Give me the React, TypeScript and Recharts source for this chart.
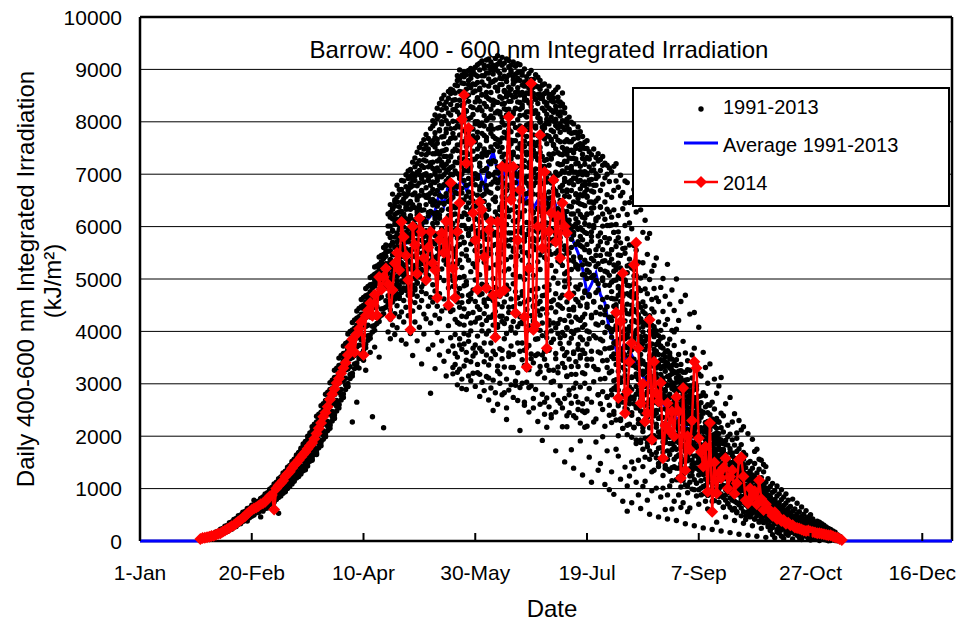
import { ScatterChart, Scatter, XAxis, YAxis, CartesianGrid } from "recharts"

const FONT = '"Liberation Sans", Arial, Helvetica, sans-serif'

const xTicks = [0, 50, 100, 150, 200, 250, 300, 350]
const xTickLabels = ["1-Jan", "20-Feb", "10-Apr", "30-May", "19-Jul", "7-Sep", "27-Oct", "16-Dec"]
const yTicks = [0, 1000, 2000, 3000, 4000, 5000, 6000, 7000, 8000, 9000, 10000]

// 1991-2013 daily values, each row: [day of year (1-Jan = 0), values...]
const cloudSpring = [
  [27, 10, 35, 50, 25], [28, 22, 48, 63, 34], [29, 28, 57, 72, 44], [30, 42, 66, 93, 53],
  [31, 47, 84, 101, 68], [32, 63, 97, 128, 79], [33, 71, 118, 141, 98], [34, 93, 131, 174, 108],
  [35, 98, 156, 186, 133], [36, 124, 170, 226, 147], [37, 137, 206, 241, 173], [38, 166, 224, 281, 192],
  [39, 181, 262, 299, 224], [40, 211, 276, 348, 247], [41, 226, 317, 362, 281], [42, 262, 339, 410, 296],
  [43, 276, 378, 432, 336], [44, 318, 398, 481, 354], [45, 331, 448, 497, 396], [46, 372, 463, 551, 414],
  [47, 389, 509, 566, 457], [48, 428, 527, 621, 474, 380], [49, 444, 574, 632, 518], [50, 489, 592, 683, 538],
  [51, 494, 634, 691, 578, 780], [52, 539, 647, 744, 594], [53, 544, 691, 751, 633], [54, 584, 702, 803, 643, 460],
  [55, 593, 752, 814, 688, 570, 840], [56, 641, 761, 874, 702, 620, 900], [57, 652, 823, 889, 754, 630, 920], [58, 712, 838, 957, 771, 690, 990],
  [59, 731, 909, 972, 831, 700, 1020], [60, 793, 927, 1048, 851, 740, 1090], [61, 811, 1001, 1066, 917, 790, 1120], [62, 874, 1017, 1149, 940, 530, 830, 1190],
  [63, 889, 1097, 1164, 1009, 860, 1220], [64, 967, 1117, 1256, 1028, 910, 1300], [65, 988, 1204, 1274, 1109, 960, 940, 1330], [66, 1069, 1224, 1367, 1137, 1000, 1410],
  [67, 1086, 1309, 1384, 1216, 1040, 1440], [68, 1171, 1322, 1478, 1236, 1090, 1110, 1520], [69, 1184, 1412, 1492, 1318, 1140, 1550], [70, 1272, 1423, 1594, 1334, 1620, 1200, 1640],
  [71, 1283, 1522, 1611, 1417, 1230, 1680], [72, 1374, 1536, 1716, 1437, 1280, 1310, 1770], [73, 1382, 1633, 1729, 1531, 1340, 1800], [74, 1477, 1648, 1836, 1546, 1360, 1420, 1890],
  [75, 1484, 1756, 1851, 1641, 1430, 1930], [76, 1587, 1768, 1965, 1661, 1520, 2020], [77, 1601, 1884, 1987, 1767, 1540, 1560, 2070], [78, 1718, 1906, 2112, 1788, 1650, 2160],
  [79, 1739, 2037, 2134, 1903, 1650, 1680, 2210], [80, 1861, 2066, 2272, 1938, 1780, 2320], [81, 1884, 2203, 2309, 2066, 2420, 1820, 2380], [82, 2021, 2238, 2461, 2099, 1940, 2500],
  [83, 2046, 2382, 2502, 2243, 2000, 1990, 2560], [84, 2191, 2423, 2662, 2282, 2110, 2700], [85, 2222, 2579, 2712, 2428, 2200, 2150, 2760], [86, 2373, 2621, 2882, 2471, 2290, 2910],
  [87, 2409, 2791, 2929, 2631, 2350, 2340, 2980], [88, 2573, 2838, 3103, 2681, 2480, 3130], [89, 2607, 3012, 3149, 2841, 2600, 2540, 3200], [90, 2777, 3058, 3322, 2891, 2690, 3360],
  [91, 2806, 3233, 3378, 3061, 3520, 2740, 3440], [92, 2977, 3278, 3563, 3107, 2890, 3590], [93, 3006, 3453, 3619, 3281, 2950, 2950, 3670], [94, 3177, 3496, 3793, 3326, 3100, 3820],
  [95, 3203, 3673, 3846, 3502, 2270, 3150, 3900], [96, 3377, 3709, 4021, 3538, 3900, 3290, 4060], [97, 3397, 3873, 4058, 3703, 2650, 3340, 4120], [98, 3557, 3907, 4233, 3737, 3300, 3480, 4280],
  [99, 3576, 4073, 4267, 3837, 3530, 4330], [100, 3737, 4097, 4433, 3927, 3450, 3630, 4500], [101, 3754, 4263, 4467, 4093, 3260, 3690, 4560], [102, 3917, 4287, 4633, 4117, 3830, 4700],
  [103, 3934, 4443, 4667, 4273, 3600, 3870, 4760], [104, 4097, 4467, 4833, 4297, 2370, 3990, 4900], [105, 4114, 4623, 4867, 4453, 3700, 4020, 4980], [106, 4267, 4647, 5033, 4477, 4150, 5120],
  [107, 4276, 4803, 5067, 4633, 3510, 4190, 5180], [108, 4427, 4817, 5233, 4657, 5450, 4310, 5330], [109, 4436, 4963, 5267, 4813, 2160, 4340, 5390], [110, 4587, 4977, 5433, 4827, 5650, 4460, 5520],
]

// more spring days, upper side of the band
const cloudSpringUpper = [
  [50, 610, 470, 650], [51, 540, 680, 600], [52, 690, 560, 620], [53, 610, 760, 700], [54, 740, 650, 810],
  [55, 680, 830, 600], [56, 810, 700, 760], [57, 740, 870, 820], [58, 880, 770, 720], [59, 820, 960, 900],
  [60, 990, 860, 780], [61, 900, 1060, 1010], [62, 1100, 960, 880], [63, 1010, 1170, 1110], [64, 1210, 1060, 970],
  [65, 1120, 1290, 1230], [66, 1320, 1170, 1070], [67, 1230, 1410, 1330], [68, 1460, 1280, 1190], [69, 1370, 1560, 1480],
  [70, 1590, 1410, 1300], [71, 1510, 1690, 1620], [72, 1730, 1560, 1420], [73, 1660, 1850, 1760], [74, 1900, 1710, 1560],
  [75, 1820, 2000, 1920], [76, 2060, 1860, 1720], [77, 1980, 2180, 2100], [78, 2230, 2020, 1880], [79, 2150, 2380, 2270],
  [80, 2420, 2190, 2050], [81, 2340, 2580, 2460], [82, 2620, 2380, 2230], [83, 2540, 2800, 2680], [84, 2840, 2580, 2420],
  [85, 2750, 3020, 2890], [86, 3070, 2790, 2620], [87, 2970, 3260, 3120], [88, 3300, 3010, 2830], [89, 3200, 3490, 3350],
  [90, 3540, 3240, 3050], [91, 3420, 3720, 3580], [92, 3770, 3460, 3270], [93, 3650, 3950, 3800], [94, 4000, 3690, 3480],
  [95, 3870, 4170, 4030], [96, 4220, 3910, 3700], [97, 4090, 4390, 4250], [98, 4440, 4120, 3910], [99, 4300, 4610, 4470],
  [100, 4650, 4330, 4110], [101, 4510, 4820, 4680], [102, 4860, 4530, 4310], [103, 4710, 5030, 4890], [104, 5060, 4730, 4510],
  [105, 4910, 5230, 5090], [106, 5250, 4920, 4700], [107, 5100, 5420, 5280], [108, 5440, 5110, 4890], [109, 5280, 5600, 5470],
  [110, 5620, 5290, 5070],
]

const cloudSummer = [
  [111, 4520, 5870, 5110, 6240, 4860, 5530, 3990, 6010, 5290, 4680],
  [112, 5640, 4410, 6180, 5020, 4230, 5790, 6420, 4950, 5370, 3860],
  [113, 4790, 6330, 5460, 4120, 5910, 5180, 6620, 4560, 5700, 5050],
  [114, 6050, 4880, 5320, 6470, 4340, 5600, 3940, 5150, 6230, 4690],
  [115, 5260, 6560, 4490, 5830, 4960, 6140, 5480, 4070, 6790, 5710],
  [116, 4630, 5950, 6380, 5090, 4280, 5560, 6710, 4820, 5340, 6040],
  [117, 5810, 4370, 6290, 5430, 4740, 6880, 5140, 3830, 6090, 5620],
  [118, 4940, 6450, 5270, 4590, 5990, 6630, 4180, 5720, 5060, 6210],
  [119, 6370, 5040, 4460, 5860, 6990, 5390, 4810, 6150, 3760, 5580],
  [120, 5190, 6620, 4690, 5950, 4300, 6340, 5480, 7060, 4920, 5770],
  [121, 4580, 6480, 5320, 7090, 3960, 5860, 6210, 4840, 5540, 6750],
  [122, 6020, 4390, 6890, 5170, 5680, 7230, 4710, 6370, 3540, 5430],
  [123, 5260, 6640, 4550, 7310, 5890, 4180, 6130, 5010, 6960, 4830],
  [124, 4670, 5740, 7040, 6280, 3820, 5390, 6560, 4930, 7420, 5980],
  [125, 6180, 5050, 6830, 4460, 7510, 5620, 4080, 6410, 5270, 6990],
  [126, 5490, 7160, 4760, 6040, 3380, 6690, 5180, 7580, 4590, 5860],
  [127, 4910, 6320, 5700, 7270, 4330, 6850, 5360, 7660, 3950, 6150],
  [128, 6560, 4720, 7370, 5540, 6090, 4240, 7010, 5160, 7760, 5880],
  [129, 5230, 6900, 4480, 6270, 7480, 5720, 3660, 6610, 4990, 7140],
  [130, 4650, 7220, 5950, 6480, 5310, 7870, 4160, 6790, 2820, 5590],
  [131, 5420, 7390, 4560, 6710, 8020, 5980, 3740, 6260, 7110, 4890, 7640, 6520],
  [132, 6840, 4310, 7520, 5670, 8130, 6150, 3290, 7000, 5230, 6480, 7790, 4770],
  [133, 5110, 7250, 6390, 4480, 8260, 5860, 6930, 7670, 3980, 6070, 5440, 7440],
  [134, 7060, 4720, 6600, 8350, 5540, 7380, 3550, 6220, 7850, 5030, 6780, 4240],
  [135, 5780, 7710, 4390, 6950, 8440, 6320, 5190, 7230, 3820, 6570, 7960, 5510],
  [136, 6440, 4970, 8100, 7120, 5360, 6790, 3430, 7580, 5910, 8510, 4620, 7340],
  [137, 7470, 5620, 6870, 4450, 8260, 6050, 7790, 3150, 6630, 5280, 8020, 7190],
  [138, 4830, 7090, 6210, 8580, 5740, 7620, 4110, 6920, 5430, 8170, 3620, 6480],
  [139, 6690, 8330, 5060, 7350, 4380, 7870, 6080, 8620, 5590, 3880, 7130, 6340],
  [140, 5290, 7700, 6560, 4640, 8410, 6990, 5850, 8010, 3310, 7440, 4970, 6230],
  [141, 7230, 5520, 8550, 6360, 4230, 7880, 6790, 8240, 3580, 5940, 7480, 4870],
  [142, 6110, 8690, 4560, 7560, 5290, 8310, 6630, 3220, 7920, 5780, 8790, 7010],
  [143, 8410, 5030, 7310, 6450, 8820, 4140, 7750, 5660, 6920, 3740, 8130, 6200],
  [144, 5480, 7990, 6730, 4680, 8570, 7150, 2910, 6020, 8890, 5220, 7620, 6510],
  [145, 7410, 6260, 8730, 5050, 7830, 3960, 6880, 8350, 5700, 8950, 4430, 7070],
  [146, 6580, 8480, 4890, 7240, 5960, 8900, 6370, 3450, 7690, 5440, 8210, 7530],
  [147, 8060, 5360, 7060, 8710, 6140, 4570, 7810, 6660, 8980, 5870, 3930, 7380],
  [148, 5670, 7570, 8830, 6320, 4720, 8290, 7160, 5140, 9020, 6820, 7890, 4160],
  [149, 7730, 6010, 8560, 5290, 7280, 8970, 6490, 3680, 8140, 5760, 7440, 6900],
  [150, 6390, 8380, 4980, 7620, 9040, 5550, 7010, 8710, 3590, 6150, 8000, 5230],
  [151, 8230, 5920, 7480, 4470, 8870, 6600, 7800, 5360, 9090, 3210, 6920, 8450],
  [152, 6760, 8640, 5080, 7210, 9120, 4260, 7930, 6090, 8390, 5630, 3680, 7560],
  [153, 7980, 4720, 8760, 6370, 5510, 8210, 7330, 9160, 4010, 6830, 8520, 5890],
  [154, 5320, 7740, 6480, 9020, 3420, 8350, 7070, 5850, 8880, 4550, 7450, 6240],
  [155, 8560, 6160, 7640, 4890, 9180, 7110, 5570, 8290, 3950, 6700, 8030, 7390],
  [156, 6960, 8930, 5210, 7860, 4270, 8440, 6410, 9200, 5760, 7240, 3110, 8680],
  [157, 7520, 5480, 8750, 6640, 8110, 4630, 7930, 9140, 6090, 3780, 8410, 5900],
  [158, 5010, 8320, 7260, 9080, 6520, 2490, 7720, 5640, 8910, 6850, 4320, 8070],
  [159, 8660, 6280, 7570, 4840, 9210, 7040, 5890, 8380, 3560, 6480, 8800, 5270],
  [160, 7140, 8970, 5480, 6730, 8200, 4130, 7880, 9260, 6110, 3340, 7530, 8590],
  [161, 6320, 8710, 4670, 7610, 9150, 5840, 8190, 3190, 7050, 8920, 5310, 6890],
  [162, 8450, 5590, 7330, 9230, 4290, 6760, 8080, 5980, 8820, 3640, 7690, 6440],
  [163, 5150, 7940, 8600, 6210, 4780, 9120, 7240, 2830, 8350, 6650, 5660, 8870],
  [164, 7770, 6040, 9200, 5370, 8480, 3960, 7080, 8770, 2320, 6530, 8130, 4880],
  [165, 6790, 8890, 4460, 7520, 5880, 9170, 8240, 6300, 3520, 7860, 5190, 8560],
  [166, 8620, 5420, 7180, 9080, 6580, 4020, 8390, 7650, 5750, 2980, 8940, 6950],
  [167, 4910, 7420, 8800, 6110, 9140, 5530, 7970, 3310, 8470, 6720, 8150, 5080],
  [168, 7640, 6380, 8560, 4370, 7010, 9060, 5910, 8260, 2970, 6840, 8910, 5250],
  [169, 8380, 5780, 6960, 9110, 4640, 7750, 8650, 6270, 3780, 7330, 5440, 8830],
  [170, 6190, 8950, 5050, 7490, 8240, 2110, 6680, 9090, 5610, 7920, 4150, 8510],
  [171, 7830, 5360, 8700, 6520, 4180, 8950, 7170, 5880, 3010, 8320, 6940, 4760],
  [172, 5720, 8480, 6880, 3640, 7630, 9010, 4990, 7260, 8130, 6310, 2650, 8760],
  [173, 8190, 6630, 4420, 7940, 5500, 8860, 6950, 3280, 8550, 7420, 5110, 6080],
  [174, 6480, 8920, 7220, 5270, 8360, 2930, 6770, 8640, 4610, 7850, 5940, 3730],
  [175, 7560, 5630, 8290, 4030, 8980, 6410, 7920, 5180, 8600, 6990, 3480, 7280],
  [176, 5070, 7750, 8810, 6280, 4470, 8160, 7030, 2540, 8480, 6620, 5780, 7460],
  [177, 8430, 6150, 7390, 4810, 8900, 5560, 7880, 3850, 6840, 8210, 5920, 7100],
  [178, 6350, 8670, 5330, 7610, 3570, 8350, 6990, 4820, 8850, 7290, 2280, 5750],
  [179, 7990, 5180, 8520, 6570, 8060, 4310, 7420, 5950, 8790, 3230, 6890, 7700],
  [180, 5530, 8260, 6820, 7810, 1920, 8700, 4680, 7150, 6060, 8440, 3920, 6450],
  [181, 7670, 5410, 8380, 6290, 3470, 7940, 4850, 8720, 6610, 2650, 7260, 5830],
  [182, 6070, 8140, 4430, 7580, 8590, 5370, 6930, 2170, 7990, 3880, 6450, 8360],
  [183, 8460, 6380, 7170, 4890, 8020, 5760, 3260, 7720, 6660, 8680, 4210, 5540],
  [184, 5260, 7840, 6550, 8520, 3790, 7310, 5950, 8220, 2410, 6860, 4570, 7640],
  [185, 7390, 5680, 8560, 4160, 6730, 8010, 3050, 7550, 6140, 8380, 5020, 6930],
  [186, 6640, 8300, 5150, 7720, 1720, 6210, 8610, 4720, 7040, 5860, 3580, 8050],
  [187, 8150, 4920, 6980, 7900, 5540, 3320, 8470, 6290, 7410, 4150, 5880, 8660],
  [188, 5790, 7620, 8380, 4480, 6750, 2630, 7960, 5320, 8190, 6440, 3880, 7180],
  [189, 7510, 6020, 8550, 3670, 7190, 5260, 8020, 4690, 6680, 8340, 2180, 6310],
  [190, 6200, 8170, 4960, 7450, 5630, 1510, 7850, 6860, 3540, 8270, 5100, 7040],
  [191, 7240, 5490, 6660, 3140, 7930, 4560, 6120, 8050, 2390, 5830, 7480, 4070],
  [192, 5010, 7620, 6390, 8090, 3780, 6850, 2790, 5500, 7310, 4420, 7860, 6040],
  [193, 7780, 4680, 6240, 7090, 5760, 3330, 7990, 5180, 1740, 6690, 4000, 7460],
  [194, 6470, 7960, 3580, 5340, 7300, 6010, 1390, 7670, 4730, 5890, 2920, 6930],
  [195, 4850, 7200, 6610, 7800, 3010, 5660, 7490, 4270, 6150, 2350, 5230, 7040],
  [196, 7560, 5950, 3660, 6860, 4560, 7690, 2650, 6300, 5190, 7900, 4030, 6540],
  [197, 5420, 6720, 7810, 4210, 7150, 1910, 5980, 3490, 7470, 6430, 4890, 5640],
  [198, 6990, 4640, 7380, 5750, 2480, 6590, 7720, 3840, 5270, 1260, 6180, 7530],
  [199, 4330, 7280, 6060, 7610, 5080, 3190, 6790, 5560, 7050, 2170, 4740, 6400],
  [200, 6710, 5290, 7490, 3470, 6230, 7640, 4520, 5870, 2480, 7020, 4010, 6560],
  [201, 5130, 6890, 3860, 7290, 4670, 6030, 1600, 5540, 2910, 7430],
  [202, 6350, 4260, 7060, 5390, 1120, 6680, 3470, 5810, 7370, 2650],
  [203, 4570, 7190, 5980, 3040, 6450, 7480, 2270, 5070, 3920, 6790],
  [204, 6920, 5450, 2330, 7320, 4140, 6150, 3280, 7010, 4970, 1890],
  [205, 3610, 6540, 7250, 4790, 5820, 1350, 6960, 2790, 5290, 7390],
  [206, 5710, 7070, 4330, 6380, 1480, 7280, 3850, 5180, 6690, 3090],
  [207, 6810, 3440, 5560, 7170, 4610, 2510, 6240, 7340, 1990, 5020],
  [208, 4880, 6470, 7210, 2190, 5790, 3980, 6930, 1080, 5350, 4320],
  [209, 6330, 5130, 3310, 7000, 4470, 6610, 2740, 5690, 1720, 7170],
  [210, 5470, 6860, 4060, 2400, 6280, 980, 5070, 7120, 3680, 6020],
]

// second pass over the same years, densest part of the summer cloud
const cloudSummerCore = [
  [112, 5810, 4930, 6270, 5370, 4660, 6010, 5540, 4820], [113, 5090, 6150, 4710, 5680, 6340, 4990, 5930, 5260],
  [114, 6390, 5470, 4780, 6120, 5160, 5800, 4620, 6510], [115, 4870, 6260, 5620, 5050, 6470, 4720, 5880, 5330],
  [116, 6030, 5230, 6610, 4880, 5760, 6280, 5410, 4670], [117, 5520, 6710, 4960, 6190, 5310, 4760, 6470, 5840],
  [118, 6240, 4830, 5710, 6870, 5180, 6530, 4970, 5560], [119, 5100, 6580, 5890, 4780, 6330, 5450, 6760, 5270],
  [120, 6440, 5360, 4870, 6690, 5710, 6090, 5030, 6920], [121, 5560, 6820, 5020, 6330, 4740, 6960, 5790, 6160],
  [122, 6610, 5240, 7010, 5900, 4880, 6420, 5570, 6780], [123, 5020, 6360, 5710, 7140, 6030, 4790, 6880, 5440],
  [124, 6780, 5550, 6220, 4920, 7200, 5860, 6510, 5180], [125, 5330, 7070, 5870, 6590, 5040, 6350, 7260, 5620],
  [126, 6920, 5740, 6310, 5160, 7380, 6000, 4850, 6680], [127, 5470, 6990, 6130, 7480, 5290, 6600, 5810, 7130],
  [128, 7250, 5920, 6740, 5100, 6420, 7560, 5630, 6980], [129, 5800, 7410, 6200, 6880, 5350, 7680, 6550, 5070],
  [130, 6970, 5480, 7600, 6290, 5910, 7170, 6640, 5230], [131, 6060, 7560, 5370, 6850, 7920, 5710, 7230, 6410],
  [132, 7390, 5830, 6620, 7970, 5250, 7040, 6200, 7700], [133, 5580, 7120, 6880, 8060, 6270, 5390, 7590, 6690],
  [134, 7830, 6450, 5720, 7280, 6950, 8110, 5480, 6160], [135, 6310, 8000, 7440, 5610, 6740, 7170, 8230, 5960],
  [136, 7720, 5890, 6990, 8320, 6430, 5530, 7450, 6800], [137, 5720, 7340, 6580, 8380, 7860, 6120, 5390, 7040],
  [138, 7960, 6790, 5640, 7250, 8450, 6330, 7600, 5950], [139, 6200, 7680, 8130, 5790, 7000, 8540, 6520, 7330],
  [140, 8230, 6060, 7150, 6740, 8600, 5580, 7780, 6390], [141, 6650, 8420, 5860, 7690, 7060, 8700, 6240, 5430],
  [142, 7450, 6380, 8190, 5620, 8880, 7220, 6760, 8010], [143, 5910, 7900, 6950, 8580, 6470, 7560, 8990, 5360],
  [144, 8310, 6640, 7410, 5800, 8740, 7000, 6190, 8060], [145, 6020, 8120, 7620, 6510, 8480, 5690, 7290, 8860],
  [146, 7800, 6230, 8620, 7080, 5560, 8200, 6790, 7420], [147, 6450, 8390, 5830, 7630, 8790, 6920, 7260, 8510],
  [148, 8080, 7140, 6550, 8650, 5950, 7700, 6280, 8900], [149, 6630, 8720, 7860, 5700, 8270, 7000, 8950, 6370],
  [150, 7960, 6140, 8590, 7290, 6800, 8900, 5540, 7650], [151, 5860, 8000, 7340, 8750, 6420, 7700, 6980, 8460],
  [152, 7540, 6700, 8280, 5620, 8990, 7150, 6240, 8610], [153, 6210, 8510, 7060, 7780, 5810, 8880, 6590, 7390],
  [154, 8120, 5940, 7480, 8700, 6620, 7920, 5500, 9080], [155, 6780, 8290, 5760, 7360, 8930, 6210, 7700, 8480],
  [156, 7420, 6330, 8820, 5570, 8070, 7010, 9060, 6660], [157, 5920, 7780, 6810, 8560, 7200, 9000, 6010, 8240],
  [158, 8410, 6990, 7860, 6140, 8770, 5840, 7450, 8990], [159, 6560, 8170, 5660, 7680, 9040, 6910, 8380, 7240],
  [160, 7660, 6210, 8640, 7020, 5820, 8370, 6830, 9100], [161, 5650, 8480, 7430, 6370, 8830, 7890, 6040, 8150],
  [162, 7990, 6570, 8710, 5480, 7510, 9080, 6940, 8340], [163, 6830, 8250, 5900, 7800, 8990, 6440, 7380, 8580],
  [164, 8520, 7180, 6360, 8840, 5740, 7690, 8230, 6690], [165, 6190, 7950, 8660, 7010, 5630, 8390, 7430, 9050],
  [166, 7810, 6740, 5880, 8510, 7290, 8980, 6320, 7580], [167, 6530, 8720, 7640, 5590, 8190, 6980, 8860, 7370],
  [168, 8250, 5780, 7120, 8780, 6620, 7890, 6090, 8480], [169, 6120, 8040, 7500, 8940, 5760, 7150, 8570, 6650],
  [170, 7580, 6490, 8370, 5910, 8790, 7040, 6260, 8120], [171, 5980, 8560, 6730, 7760, 8270, 5520, 7440, 8890],
  [172, 7890, 6300, 8410, 7140, 5780, 8680, 6620, 7530], [173, 6450, 7370, 8770, 5850, 8090, 6830, 7720, 8410],
  [174, 8190, 6070, 7580, 8540, 6640, 5440, 7960, 7130], [175, 6690, 8370, 5760, 7490, 8810, 6310, 7980, 6980],
  [176, 7610, 6260, 8540, 7030, 5620, 8200, 6780, 8660], [177, 5730, 7920, 6930, 8430, 7340, 6080, 8690, 7550],
  [178, 8080, 6610, 7270, 5890, 8520, 7740, 6330, 8150], [179, 6290, 8450, 7510, 6830, 5460, 8010, 7100, 8620],
  [180, 7340, 5790, 8480, 6570, 7900, 6200, 8700, 7100], [181, 6080, 7690, 8210, 5600, 7150, 8540, 6580, 7880],
  [182, 8310, 6850, 5380, 7740, 6320, 8050, 7280, 5890], [183, 5950, 7380, 8520, 6540, 7960, 5640, 7020, 8260],
  [184, 7670, 6190, 7290, 8400, 5470, 6830, 8090, 6440], [185, 6470, 8180, 5760, 7570, 6960, 8460, 5930, 7810],
  [186, 7930, 5490, 6880, 8230, 6200, 7480, 8000, 6680], [187, 5820, 7650, 6600, 7200, 8390, 5350, 7880, 6340],
  [188, 7380, 6080, 8110, 5700, 7010, 6500, 7800, 8300], [189, 6790, 7900, 5440, 7370, 6230, 8190, 5920, 7060],
  [190, 5560, 7250, 6580, 8010, 5890, 7620, 6920, 4850], [191, 7660, 6290, 5140, 7120, 8000, 6700, 5580, 7380],
  [192, 6120, 7450, 6830, 5360, 7810, 4910, 7020, 6570], [193, 7300, 5600, 6880, 7620, 4700, 6380, 5970, 7150],
  [194, 5420, 7040, 6240, 7790, 5840, 4460, 6800, 7410], [195, 6920, 5990, 7530, 4610, 6630, 5280, 7290, 6050],
  [196, 5250, 7210, 6460, 5710, 7740, 4810, 6080, 7000], [197, 7050, 5810, 4490, 6880, 6230, 7580, 5410, 6610],
  [198, 5610, 6790, 7300, 5080, 6420, 4270, 7040, 5930], [199, 6850, 5360, 6160, 7490, 4770, 5890, 6650, 7190],
  [200, 5170, 6990, 5660, 4460, 7320, 6240, 5010, 6580], [201, 6470, 4700, 7140, 5510, 6010, 3990, 6810, 5280],
  [202, 5030, 6260, 4310, 6900, 5720, 3620, 6470, 5900], [203, 6660, 5350, 6020, 4560, 7080, 5070, 3330, 6360],
  [204, 4740, 6490, 5560, 3880, 6790, 5240, 6110, 4360],
]

// lower half of the summer cloud
const cloudSummerLow = [
  [140, 4410, 3720, 4860, 3190], [141, 3940, 4620, 3370, 4990], [142, 4730, 3510, 4170, 2980], [143, 3280, 4460, 3860, 4820],
  [144, 4550, 3090, 4290, 3660], [145, 3760, 4870, 3340, 4120], [146, 4280, 3600, 4950, 2890], [147, 3150, 4340, 3810, 4690],
  [148, 4620, 3420, 4010, 3060], [149, 3530, 4790, 3200, 4360], [150, 4180, 2950, 4570, 3740], [151, 3370, 4250, 3910, 4830],
  [152, 4700, 3180, 4420, 2760], [153, 3620, 4900, 3030, 4130], [154, 4340, 2870, 3780, 4600], [155, 3140, 4480, 3550, 4210],
  [156, 4630, 3360, 4010, 2690], [157, 3480, 4270, 2920, 4750], [158, 4120, 3620, 4590, 3070], [159, 2830, 4380, 3930, 4660],
  [160, 4520, 3240, 4080, 2610], [161, 3670, 4800, 3010, 4290], [162, 4190, 2790, 4470, 3480], [163, 3320, 4560, 3860, 4150],
  [164, 4710, 3090, 4240, 2540], [165, 3590, 4360, 2880, 4810], [166, 4080, 3310, 4620, 3720], [167, 2740, 4470, 3560, 4190],
  [168, 4380, 3050, 3970, 4760], [169, 3210, 4640, 2680, 4090], [170, 4530, 3620, 4280, 2930], [171, 3460, 4150, 3780, 4690],
  [172, 4270, 2590, 4560, 3350], [173, 3030, 4420, 3690, 4010], [174, 4610, 3270, 4110, 2460], [175, 3570, 4780, 2960, 4300],
  [176, 4200, 3400, 4490, 2720], [177, 2890, 4060, 3540, 4660], [178, 4390, 3190, 3860, 4530], [179, 3330, 4570, 2610, 4020],
  [180, 4160, 2800, 4430, 3550], [181, 3620, 4690, 3110, 2420], [182, 4340, 3350, 3980, 2730], [183, 2560, 4120, 3640, 4790],
  [184, 4450, 3030, 4010, 2350], [185, 3260, 4600, 2790, 3850], [186, 4070, 3480, 4370, 2460], [187, 2680, 3960, 3210, 4510],
  [188, 4230, 2960, 3770, 4640], [189, 3390, 4440, 2540, 3980], [190, 3920, 2720, 4210, 3310], [191, 3150, 4060, 3600, 2180],
  [192, 4300, 2880, 3470, 2450], [193, 2630, 3870, 3180, 4180], [194, 3960, 2390, 3610, 4410], [195, 3420, 4020, 2760, 3180],
  [196, 2510, 3750, 3330, 4230], [197, 3890, 2940, 3540, 2250], [198, 3210, 4080, 2620, 3640], [199, 2450, 3580, 3010, 4130],
  [200, 3760, 2710, 3350, 2190],
]

const cloudAutumn = [
  [211, 4210, 6180, 2790, 5560, 7050, 3520, 1320, 4940, 6560, 2260],
  [212, 5890, 3060, 6690, 4480, 890, 5270, 2420, 6320, 3780, 7150],
  [213, 3370, 5720, 4620, 6870, 1750, 6040, 2890, 5180, 4110, 7200],
  [214, 6210, 4050, 2010, 5460, 6750, 3240, 1620, 4830, 5900, 2580],
  [215, 4360, 6590, 3590, 5010, 2330, 6980, 4750, 1180, 5690, 3030],
  [216, 5580, 2760, 6340, 4180, 760, 5120, 3450, 6650, 2150, 4670],
  [217, 3860, 6020, 4980, 2540, 5490, 1410, 6450, 3160, 4410, 6870],
  [218, 5250, 3380, 6230, 570, 4520, 2030, 5770, 3940, 1050, 6840],
  [219, 4080, 6460, 2690, 5380, 3600, 1240, 4870, 6070, 2230, 5650],
  [220, 5960, 3120, 4660, 730, 6550, 2450, 5210, 3790, 1510, 4400],
  [221, 3470, 5180, 2160, 4390, 6710, 1380, 3890, 2710, 4910, 5640],
  [222, 4720, 2580, 5550, 3310, 1860, 6280, 4020, 2950, 5070, 1120],
  [223, 2870, 4530, 3640, 1540, 5320, 2240, 4160, 6500, 3080, 880],
  [224, 4240, 1930, 5020, 3460, 620, 4780, 2700, 6320, 3900, 2240],
  [225, 3180, 5310, 2430, 4560, 1420, 3770, 5890, 2090, 4090, 1040],
  [226, 4810, 2790, 3650, 1600, 6120, 2470, 4340, 3220, 1140, 5060],
  [227, 2360, 4160, 3360, 5470, 780, 3890, 1870, 4720, 2640, 5780],
  [228, 3720, 1980, 4990, 2850, 510, 4210, 3190, 5870, 1560, 2520],
  [229, 2620, 4610, 3480, 1320, 5150, 2280, 3970, 960, 4430, 3030],
  [230, 4050, 2390, 3130, 4820, 1350, 3660, 5260, 2010, 2840, 4370],
  [231, 2730, 3940, 1690, 3300, 4640, 2230, 1010, 3620, 2490, 5400],
  [232, 3560, 2080, 4180, 1420, 2870, 460, 3810, 2610, 4570, 1770],
  [233, 2350, 3720, 2960, 4840, 1530, 3180, 840, 4020, 1990, 2750],
  [234, 3890, 1250, 2690, 3440, 4380, 2140, 1010, 3050, 5010, 1690],
  [235, 2160, 3330, 1880, 4130, 2520, 600, 3600, 2860, 1390, 4670],
  [236, 3140, 2010, 3760, 880, 2730, 4230, 1560, 3400, 420, 5280],
  [237, 2580, 3590, 1330, 3070, 1860, 4520, 2320, 1050, 3850, 2800],
  [238, 3470, 1740, 2950, 4020, 1150, 2410, 3260, 4790, 2050, 610],
  [239, 2270, 3210, 1420, 3730, 2680, 760, 3990, 1900, 2520, 4400],
  [240, 3030, 1610, 2600, 390, 3460, 2190, 4040, 1170, 2860, 5000],
  [241, 2460, 1390, 3150, 1880, 2710, 880, 3560, 2130, 1170, 4210],
  [242, 1990, 2890, 1030, 3370, 2300, 1620, 4570, 2620, 1480, 640],
  [243, 2770, 1520, 3050, 2120, 730, 2490, 1810, 3810, 1260, 2960],
  [244, 1710, 3220, 2340, 1070, 2650, 330, 3590, 1930, 2110, 4690],
  [245, 2550, 1330, 2880, 1840, 3440, 920, 2240, 1590, 3080, 560],
  [246, 2080, 2790, 1240, 3260, 1660, 2430, 630, 1920, 4330, 2640],
  [247, 2870, 1460, 2180, 3550, 990, 2610, 1770, 3110, 1340, 2020],
  [248, 1820, 2640, 1170, 2340, 290, 3000, 2010, 1480, 3680, 4360],
  [249, 2430, 1630, 2960, 860, 2180, 1390, 3350, 1930, 2720, 1110],
  [250, 1570, 2760, 2040, 1260, 3190, 700, 2380, 1760, 4080, 2550],
  [251, 2110, 1320, 2640, 880, 1770, 3150, 1530, 2390],
  [252, 1690, 2460, 1040, 1990, 250, 2830, 1410, 3600],
  [253, 2260, 1180, 1840, 2770, 760, 1560, 2090, 3310],
  [254, 1480, 2170, 610, 1940, 1270, 2600, 1740, 3010],
  [255, 2020, 1350, 2410, 890, 1660, 3380, 1190, 2230],
  [256, 1580, 2290, 1090, 1850, 220, 2650, 1410, 2010],
  [257, 2190, 1260, 1760, 2520, 770, 1500, 3090, 1980],
  [258, 1410, 2060, 1630, 360, 2340, 1160, 1850, 2820],
  [259, 1950, 1240, 2270, 850, 1580, 2960, 1380, 1750],
  [260, 1330, 1870, 1040, 2160, 190, 1620, 3120, 2440],
]

// upper-middle part of the autumn decline
const cloudAutumnUpper = [
  [211, 4630, 3240, 5380, 3890], [212, 3570, 4970, 2910, 4300], [213, 5240, 3810, 4450, 3080], [214, 3460, 4860, 2880, 5050],
  [215, 4570, 3040, 5210, 3670], [216, 3310, 4720, 3890, 2650], [217, 4960, 2870, 4200, 3550], [218, 3020, 4340, 3690, 4880],
  [219, 4690, 3510, 2760, 4090], [220, 3360, 4500, 2890, 3860], [221, 4210, 2620, 3960, 4640], [222, 2800, 3680, 4370, 3140],
  [223, 4050, 3290, 2540, 4490], [224, 3560, 4230, 2770, 3850], [225, 2600, 3990, 3430, 4380], [226, 3910, 2950, 4150, 3370],
  [227, 3120, 4240, 2480, 3720], [228, 4010, 2620, 3480, 3230], [229, 2860, 3760, 3340, 4120], [230, 3520, 2410, 3900, 2970],
  [231, 2640, 3600, 3120, 4010], [232, 3760, 2930, 2340, 3420], [233, 2510, 3460, 3080, 3870], [234, 3330, 2360, 3680, 2790],
  [235, 2890, 3510, 2120, 3240], [236, 3350, 2470, 2980, 1990], [237, 2130, 3160, 2740, 3480], [238, 3020, 2310, 3350, 2600],
  [239, 2450, 3230, 1960, 2880], [240, 3110, 2580, 2040, 3350], [241, 2270, 2920, 3240, 1890], [242, 2960, 1980, 2530, 3110],
  [243, 2180, 2690, 3220, 2420], [244, 2850, 2310, 1840, 3070], [245, 2090, 2760, 2480, 3270], [246, 2670, 1870, 2960, 2250],
  [247, 2010, 2550, 2330, 2860], [248, 2740, 2120, 1790, 2580], [249, 1920, 2470, 2890, 2180], [250, 2590, 1820, 2280, 1600],
  [251, 1980, 2360, 1710, 2770], [252, 2440, 1760, 2090, 1490], [253, 1690, 2180, 2560, 1850], [254, 2280, 1580, 1960, 2450],
  [255, 1830, 2120, 1450, 2590], [256, 2010, 1720, 2330, 1360], [257, 1520, 1940, 2260, 1690], [258, 2150, 1640, 1380, 1910],
  [259, 1770, 2050, 1480, 2270], [260, 1590, 1930, 1310, 1740],
]

// densest band of the autumn decline
const cloudAutumnCore = [
  [205, 4120, 5630, 3270, 6180, 2790, 4910], [206, 5450, 3590, 6370, 4460, 2620, 5880], [207, 3820, 6010, 4970, 2850, 5340, 4170],
  [208, 5790, 4410, 3100, 6140, 3670, 5150], [209, 3450, 5480, 4650, 6020, 2760, 4090], [210, 4880, 3210, 5770, 4270, 2590, 5310],
  [211, 3690, 5560, 2880, 4760, 6030, 3990], [212, 5150, 4040, 2470, 5890, 3480, 4620], [213, 2950, 4510, 5620, 3760, 4980, 2310],
  [214, 4690, 3370, 5300, 2640, 4150, 5790], [215, 3110, 4820, 2300, 5450, 3860, 4360], [216, 4470, 2780, 5080, 3530, 2150, 3990],
  [217, 3260, 4960, 4040, 2470, 5590, 3720], [218, 4720, 2510, 3890, 5120, 3070, 2210], [219, 2940, 4330, 3480, 5270, 2620, 4010],
  [220, 4190, 3130, 2400, 4760, 3650, 1980], [221, 2750, 4420, 3350, 5060, 2170, 3840], [222, 3960, 2540, 4640, 3190, 1930, 4180],
  [223, 3410, 4830, 2320, 3770, 2860, 4320], [224, 2480, 3890, 3020, 4460, 1880, 3380], [225, 3670, 2160, 4170, 2790, 3240, 1750],
  [226, 2590, 3820, 1960, 4480, 3010, 2310], [227, 3860, 2440, 3300, 1800, 4120, 2850], [228, 2160, 3540, 2690, 4300, 1720, 3090],
  [229, 3370, 2010, 3950, 2520, 3140, 1650], [230, 2450, 3580, 1880, 3080, 4090, 2680], [231, 3190, 2170, 3750, 1590, 2830, 2440],
  [232, 1990, 3370, 2630, 3920, 1480, 2940], [233, 2890, 1780, 3290, 2370, 3700, 2080], [234, 2230, 3110, 1580, 2660, 3550, 1890],
  [235, 2760, 1920, 3420, 2250, 1440, 3010], [236, 1720, 2970, 2380, 3630, 2020, 1370], [237, 2480, 3300, 1650, 2760, 1980, 3530],
  [238, 1860, 2620, 3190, 1400, 2340, 2910], [239, 2950, 1560, 2210, 3390, 1800, 2630], [240, 2180, 2830, 1390, 3210, 1750, 2440],
  [241, 1640, 2600, 1950, 3040, 1220, 2280], [242, 2390, 1420, 2870, 1800, 2150, 3250], [243, 1530, 2240, 2790, 1160, 1940, 2560],
  [244, 2620, 1770, 1310, 2420, 2980, 1560], [245, 1880, 2370, 1050, 2690, 1530, 2130], [246, 1380, 2240, 1710, 2860, 1120, 1970],
  [247, 2470, 1250, 1880, 2130, 1540, 2730], [248, 1620, 2060, 980, 2420, 1390, 1840], [249, 2250, 1490, 1780, 2560, 1100, 2010],
  [250, 1360, 1950, 1680, 2290, 980, 1520], [251, 1840, 1150, 2160, 1470, 2480, 1010], [252, 1270, 1820, 1510, 2100, 900, 1660],
  [253, 1930, 1340, 1060, 1750, 2260, 1480], [254, 1120, 1640, 2050, 1360, 1860, 870], [255, 1690, 1230, 1950, 950, 1480, 2170],
  [256, 1010, 1560, 1290, 1820, 760, 1400], [257, 1630, 1140, 1880, 1370, 930, 2040], [258, 1220, 1730, 880, 1500, 1980, 1080],
  [259, 1560, 990, 1380, 1840, 740, 1230], [260, 1150, 1650, 900, 1420, 1890, 1040], [261, 1470, 830, 1280, 1750, 1060, 650],
  [262, 980, 1390, 1620, 780, 1190, 1840], [263, 1350, 1080, 710, 1540, 920, 1200], [264, 820, 1270, 1480, 1000, 1690, 640],
  [265, 1210, 780, 1400, 950, 1620, 1090], [266, 880, 1330, 620, 1150, 1500, 1010], [267, 1270, 960, 1440, 730, 1090, 560],
  [268, 720, 1170, 1390, 880, 1030, 1560], [269, 1110, 630, 1260, 960, 1450, 800], [270, 850, 1180, 560, 1030, 1320, 730],
  [271, 1060, 690, 920, 1250, 480, 820], [272, 660, 970, 1160, 780, 1290, 540], [273, 940, 600, 1080, 810, 460, 1190],
  [274, 730, 1020, 530, 870, 1140, 650], [275, 880, 560, 960, 710, 1180, 420], [276, 620, 840, 1030, 480, 750, 920],
  [277, 810, 520, 690, 960, 380, 1060], [278, 560, 780, 900, 440, 660, 990], [279, 740, 470, 850, 600, 350, 920],
  [280, 520, 710, 380, 830, 600, 1010], [281, 660, 420, 760, 540, 310, 880], [282, 470, 630, 290, 700, 810, 520],
  [283, 600, 380, 520, 740, 260, 660], [284, 410, 560, 690, 330, 480, 790], [285, 540, 340, 630, 450, 220, 720],
  [286, 380, 510, 270, 590, 670, 420], [287, 480, 300, 560, 380, 640, 210], [288, 340, 460, 540, 250, 400, 600],
  [289, 430, 270, 500, 360, 190, 560], [290, 310, 420, 200, 480, 360, 550], [291, 380, 240, 440, 310, 160, 510],
  [292, 270, 360, 420, 200, 310, 470], [293, 330, 210, 390, 270, 140, 440], [294, 230, 320, 380, 170, 270, 420],
  [295, 290, 180, 350, 240, 120, 400], [296, 200, 280, 330, 150, 240, 370], [297, 250, 150, 310, 210, 100, 340],
  [298, 170, 240, 290, 120, 200, 320], [299, 220, 130, 270, 180, 80, 290], [300, 150, 210, 250, 100, 180, 280],
]

const cloudLate = [
  [261, 1720, 1040, 1490, 2080, 640, 1280, 2390, 1860],
  [262, 1190, 1650, 460, 1920, 1410, 880, 2620, 1570],
  [263, 1560, 980, 1830, 1260, 2210, 710, 1380, 1990],
  [264, 1120, 1450, 160, 1760, 1010, 2040, 1290, 2740],
  [265, 1500, 880, 1680, 1240, 590, 1930, 1350, 2270],
  [266, 1040, 1580, 1290, 390, 1830, 760, 1160, 2430],
  [267, 1430, 890, 1710, 1170, 1960, 540, 1340, 2060],
  [268, 1210, 1500, 130, 960, 1760, 1320, 2300, 690],
  [269, 1020, 1620, 850, 1380, 480, 1840, 1130, 2120],
  [270, 1460, 760, 1210, 1690, 340, 990, 1560, 2180],
  [271, 1170, 740, 1400, 950, 410, 1280, 1640, 830],
  [272, 880, 1260, 560, 1050, 110, 1490, 720, 2050],
  [273, 1110, 670, 1330, 920, 1520, 480, 1030, 1230],
  [274, 790, 1150, 290, 980, 1390, 640, 1260, 1940],
  [275, 1040, 590, 1220, 850, 1480, 420, 960, 1710],
  [276, 720, 1090, 90, 930, 1300, 560, 1180, 1750],
  [277, 960, 640, 1150, 830, 360, 1370, 760, 1560],
  [278, 680, 1010, 240, 870, 1210, 530, 1080, 1540],
  [279, 890, 580, 1060, 750, 1320, 380, 940, 1460],
  [280, 630, 920, 70, 800, 1120, 470, 1010, 1420],
  [281, 760, 450, 980, 620, 270, 1190], [282, 560, 850, 200, 700, 1040, 390],
  [283, 720, 420, 930, 580, 120, 1100], [284, 510, 790, 60, 660, 960, 330],
  [285, 680, 380, 860, 540, 170, 1050], [286, 470, 730, 280, 610, 900, 150],
  [287, 630, 350, 790, 500, 90, 980], [288, 430, 680, 50, 560, 840, 260],
  [289, 580, 320, 720, 460, 140, 900], [290, 390, 620, 230, 520, 780, 110],
  [291, 520, 300, 660, 180, 410], [292, 350, 570, 40, 460, 800],
  [293, 480, 250, 610, 150, 380], [294, 320, 520, 110, 430, 720],
  [295, 440, 220, 560, 60, 340], [296, 290, 470, 30, 390, 650],
  [297, 400, 190, 510, 120, 310], [298, 260, 430, 90, 350, 580],
  [299, 360, 160, 460, 40, 280], [300, 230, 390, 20, 320, 500],
  [301, 330, 140, 420, 70, 240], [302, 210, 350, 120, 290, 60],
  [303, 300, 100, 380, 40, 200], [304, 180, 310, 10, 250, 360],
  [305, 260, 90, 330, 150, 50], [306, 160, 280, 30, 220, 300],
  [307, 220, 70, 270, 120, 20], [308, 130, 230, 5, 180, 240],
  [309, 180, 50, 220, 100, 10], [310, 100, 190, 30, 150, 60],
  [311, 140, 40, 170, 80, 10], [312, 70, 120, 5, 100, 50],
  [313, 90, 30, 60, 10], [314, 40, 15, 25],
]

// Average 1991-2013
const avgDays = [
  0, 26, 28, 30, 35, 40, 45, 50, 55, 60, 65, 70, 75, 80, 85, 90, 95, 100, 104, 108, 112, 116, 120, 124,
  128, 132, 134, 136, 138, 140, 142, 144, 146, 148, 150, 152, 154, 156, 158, 160, 162, 164, 166, 168,
  170, 172, 174, 176, 178, 180, 182, 184, 186, 188, 190, 192, 194, 196, 198, 200, 202, 204, 206, 208,
  210, 212, 214, 216, 218, 220, 224, 228, 232, 236, 240, 245, 250, 255, 260, 265, 270, 275, 280, 285,
  290, 295, 300, 305, 310, 314, 363.3,
]
const avgValues = [
  0, 0, 40, 60, 130, 240, 400, 580, 730, 930, 1200, 1480, 1760, 2130, 2640, 3150, 3750, 4150, 4500, 4850,
  5200, 5500, 5750, 5950, 6100, 6300, 6650, 6400, 6800, 6550, 6750, 6900, 6700, 6850, 6950, 7000, 6750,
  7200, 7420, 7050, 6800, 7250, 6900, 7080, 6600, 6450, 6700, 6350, 6500, 6300, 6500, 6200, 6400, 6100,
  6260, 6000, 5700, 5500, 5200, 4730, 4900, 5110, 4700, 4540, 4030, 3800, 3510, 3700, 3400, 3550, 3200,
  2950, 2750, 2500, 2350, 2150, 1850, 1650, 1450, 1250, 1080, 850, 700, 520, 400, 280, 200, 130, 60, 0, 0,
]

// 2014 daily values (no data between day 193 and day 212)
const firstDay2014 = 27
const values2014 = [
  40, 55, 60, 70, 80, 95, 100, 120, 140, 150,
  175, 200, 230, 250, 280, 300, 340, 370, 400, 440,
  470, 520, 560, 590, 620, 640, 670, 700, 720, 750,
  800, 850, 880, 600, 1000, 1060, 1100, 1150, 1230, 1280,
  1320, 1390, 1450, 1490, 1540, 1600, 1650, 1700, 1760, 1820,
  1870, 1950, 2050, 2150, 2250, 2370, 2450, 2560, 2700, 2800,
  2900, 3015, 3100, 3200, 3300, 3400, 3550, 3700, 3850, 3600,
  3950, 4050, 4180, 3550, 4300, 4400, 4540, 4300, 4700, 4310,
  5040, 4800, 5040, 5200, 4900, 4280, 4790, 5300, 5500, 5170,
  6090, 5800, 5450, 4980, 4030, 6000, 5650, 5100, 6160, 5900,
  5400, 4980, 5600, 5900, 5300, 5170, 4640, 5750, 5880, 5500,
  6100, 4500, 6830, 5200, 4640, 5900, 6450, 8050, 8510, 7210,
  7880, 7620, 6260, 5740, 4800, 6470, 6320, 5420, 4830, 5940,
  6100, 4690, 3890, 6090, 4730, 7140, 4790, 7120, 8090, 6510,
  7140, 4350, 5740, 6700, 7840, 4280, 3320, 5200, 8730, 4030,
  4120, 6000, 7750, 5590, 7040, 3680, 5900, 6260, 6890, 5710,
  6200, 5400, 6450, 6000, 5880, 4690,
]
const firstDay2014Late = 213
const values2014Late = [
  4360, 2730, 4190, 5110, 2440, 2850, 3420, 3780, 5270, 5690,
  3680, 2630, 3000, 2280, 2440, 4220, 1930, 3420, 2820, 2660,
  3020, 1580, 2200, 2630, 2100, 2470, 2000, 2750, 2470, 1200,
  2920, 1350, 2000, 1740, 2300, 3420, 3300, 1960, 1700, 1420,
  1800, 940, 2250, 560, 1500, 910, 1300, 1200, 1400, 1580,
  1000, 1230, 1350, 900, 1100, 1550, 1600, 1230, 780, 720,
  1000, 840, 950, 700, 1160, 800, 590, 700, 620, 560,
  480, 550, 420, 450, 380, 400, 330, 350, 300, 300,
  260, 250, 240, 220, 200, 190, 200, 180, 170, 160,
  150, 150, 140, 130, 120, 110, 110, 90, 70, 60,
  40, 20,
]

const rowsToPoints = (rows: number[][]) =>
  rows.flatMap(([day, ...vals]) => vals.map((v) => ({ x: day, y: v })))

const cloudPoints = rowsToPoints([
  ...cloudSpring,
  ...cloudSpringUpper,
  ...cloudSummer,
  ...cloudSummerCore,
  ...cloudSummerLow,
  ...cloudAutumn,
  ...cloudAutumnUpper,
  ...cloudAutumnCore,
  ...cloudLate,
])
const avgPoints = avgDays.map((d, i) => ({ x: d, y: avgValues[i] }))
const points2014 = values2014.map((v, i) => ({ x: firstDay2014 + i, y: v }))
const points2014Late = values2014Late.map((v, i) => ({ x: firstDay2014Late + i, y: v }))

const Dot = (p: any) => <circle cx={p.cx} cy={p.cy} r={2.7} fill="#000" />
const Diamond = (p: any) => (
  <path d={`M${p.cx},${p.cy - 6}L${p.cx + 6},${p.cy}L${p.cx},${p.cy + 6}L${p.cx - 6},${p.cy}Z`} fill="#ff0000" />
)
const NoShape = () => <g />

const PLOT_BOTTOM = 541

const XTick = (p: any) => (
  <g>
    <line x1={p.x} x2={p.x} y1={PLOT_BOTTOM} y2={PLOT_BOTTOM - 8} stroke="#000" strokeWidth={2} />
    <text x={p.x} y={580} textAnchor="middle" fontSize={21} fontFamily={FONT} fill="#000">
      {xTickLabels[xTicks.indexOf(p.payload.value)]}
    </text>
  </g>
)
const YTick = (p: any) => (
  <text x={122} y={p.y} dy={7.5} textAnchor="end" fontSize={21} fontFamily={FONT} fill="#000">
    {p.payload.value}
  </text>
)

const axisStyle = { stroke: "#000", strokeWidth: 2.5 }

export default function App() {
  return (
    <div style={{ position: "absolute", left: 0, top: 0, width: 956, height: 623, background: "#fff" }}>
      <ScatterChart width={956} height={623} margin={{ top: 16, right: 3, bottom: 42, left: 0 }}>
        <CartesianGrid vertical={false} stroke="#000" strokeWidth={1} />
        <XAxis
          type="number"
          dataKey="x"
          domain={[0, 363.3]}
          ticks={xTicks}
          interval={0}
          height={40}
          tickLine={false}
          axisLine={axisStyle}
          tick={XTick}
          allowDataOverflow
        />
        <XAxis xAxisId="top" orientation="top" type="number" domain={[0, 363.3]} height={1} tick={false} tickLine={false} axisLine={axisStyle} />
        <YAxis
          type="number"
          dataKey="y"
          domain={[0, 10000]}
          ticks={yTicks}
          interval={0}
          width={140}
          tickLine={false}
          axisLine={axisStyle}
          tick={YTick}
        />
        <YAxis yAxisId="right" orientation="right" type="number" domain={[0, 10000]} width={1} tick={false} tickLine={false} axisLine={axisStyle} />
        <Scatter data={avgPoints} fill="#0000ff" line={{ stroke: "#0000ff", strokeWidth: 3 }} shape={NoShape} isAnimationActive={false} />
        <Scatter data={cloudPoints} fill="#000" shape={Dot} isAnimationActive={false} />
        <Scatter data={points2014} fill="#ff0000" line={{ stroke: "#ff0000", strokeWidth: 2.5 }} shape={Diamond} isAnimationActive={false} />
        <Scatter data={points2014Late} fill="#ff0000" line={{ stroke: "#ff0000", strokeWidth: 2.5 }} shape={Diamond} isAnimationActive={false} />
      </ScatterChart>
      <svg width={956} height={623} style={{ position: "absolute", left: 0, top: 0, pointerEvents: "none" }} fontFamily={FONT}>
        <text x={539} y={58} textAnchor="middle" fontSize={24} fill="#000">
          Barrow: 400 - 600 nm Integrated Irradiation
        </text>
        <text transform="translate(34,279) rotate(-90)" textAnchor="middle" fontSize={24} fill="#000">
          Daily 400-600 nm Integrated Irradiation
        </text>
        <text transform="translate(61,281) rotate(-90)" textAnchor="middle" fontSize={24} fill="#000">
          (kJ/m²)
        </text>
        <text x={552} y={617} textAnchor="middle" fontSize={24} fill="#000">
          Date
        </text>
        <rect x={633} y={88} width={316} height={118} fill="#fff" stroke="#000" strokeWidth={2} />
        <circle cx={701} cy={109} r={2.7} fill="#000" />
        <text x={723} y={114} fontSize={20} fill="#000">1991-2013</text>
        <line x1={684} x2={718} y1={143} y2={143} stroke="#0000ff" strokeWidth={3} />
        <text x={723} y={152} fontSize={20} fill="#000">Average 1991-2013</text>
        <line x1={684} x2={718} y1={182} y2={182} stroke="#ff0000" strokeWidth={2.5} />
        <path d="M701,176L707,182L701,188L695,182Z" fill="#ff0000" />
        <text x={723} y={190} fontSize={20} fill="#000">2014</text>
      </svg>
    </div>
  )
}
